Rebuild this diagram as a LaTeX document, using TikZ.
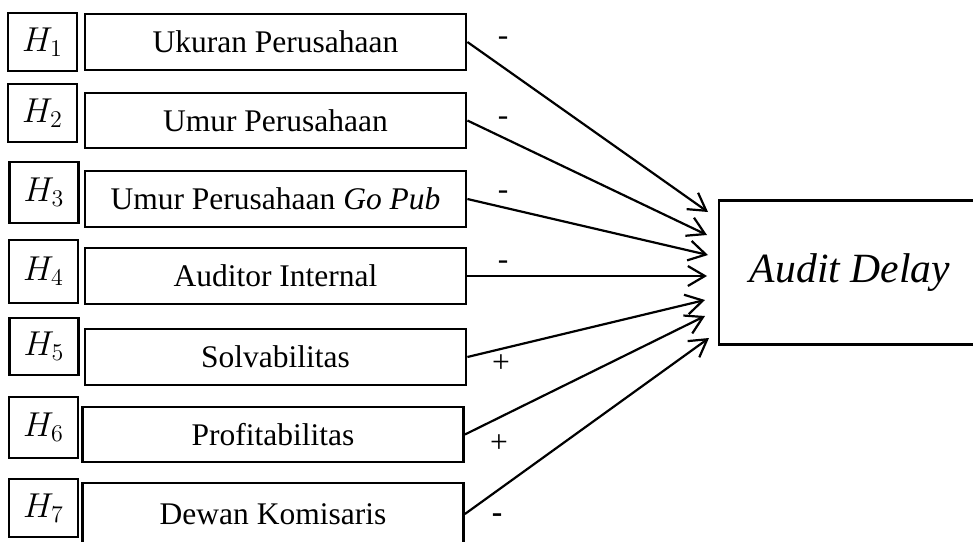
\documentclass[tikz,border=0pt]{standalone}
\usepackage{fontspec}
\setmainfont{Liberation Serif}
\usetikzlibrary{arrows.meta}
\begin{document}
\begin{tikzpicture}[x=0.5pt,y=-0.5pt,
  varbox/.style={draw, line width=1.4pt, minimum width=190.5pt, minimum height=28pt, inner sep=0pt,
    font=\fontsize{15.75}{18}\selectfont},
  hbox/.style={draw, line width=1.4pt, minimum width=34.5pt, minimum height=29pt, inner sep=0pt,
    font=\fontsize{17}{20}\selectfont},
  auditbox/.style={minimum width=160pt, minimum height=71.5pt, inner sep=0pt,
    font=\fontsize{20.8}{24}\selectfont\itshape},
  boxline/.style={line width=1.4pt},
  link/.style={line width=1.1pt, -{Straight Barb[length=8.5pt,width=10pt]}},
  sign/.style={font=\fontsize{15.75}{18}\selectfont, inner sep=0pt}]
\useasboundingbox (0,0) rectangle (973,541);
\clip (0,0) rectangle (973,541);
% hypothesis boxes
\node[hbox] (h1) at (42.5,42) {$H_1$};
\node[hbox] (h2) at (42.5,113) {$H_2$};
\node[hbox, minimum height=30.5pt] (h3) at (44,192.5) {$H_3$};
\node[hbox, minimum height=31.5pt] (h4) at (43.5,271.5) {$H_4$};
\node[hbox, minimum height=28.5pt] (h5) at (44,346.5) {$H_5$};
\node[hbox, minimum height=30.5pt] (h6) at (43.5,427.5) {$H_6$};
\node[hbox] (h7) at (43.5,508) {$H_7$};
% variable boxes
\node[varbox] (b1) at (275.5,42) {Ukuran Perusahaan};
\node[varbox, minimum height=27.5pt] (b2) at (275.5,120.5) {Umur Perusahaan};
\node[varbox] (b3) at (275.5,199) {Umur Perusahaan \textit{Go Pub}};
\node[varbox] (b4) at (275.5,276) {Auditor Internal};
\node[varbox] (b5) at (275.5,357) {Solvabilitas};
\node[varbox, minimum height=27.5pt] (b6) at (273,434.5) {Profitabilitas};
\node[varbox, minimum height=31pt] (b7) at (273,514) {Dewan Komisaris};
% dependent variable (its right side runs past the picture's edge)
\node[auditbox, anchor=west] (ad) at (719,272.5) {Audit Delay\hspace*{29.5pt}};
\draw[boxline] (ad.north east) -- (ad.north west) -- (ad.south west) -- (ad.south east);
% arrow targets
\coordinate (t1) at (708,212);
\coordinate (t2) at (707,235);
\coordinate (t3) at (708,255);
\coordinate (t4) at (707,276);
\coordinate (t5) at (705,300);
\coordinate (t6) at (705,316);
\coordinate (t7) at (709,338);
\draw[link] (b1.east) -- (t1);
\draw[link] (b2.east) -- (t2);
\draw[link] (b3.east) -- (t3);
\draw[link] (b4.east) -- (t4);
\draw[link] (b5.east) -- (t5);
\draw[link] (b6.east) -- (t6);
\draw[link] (b7.east) -- (t7);
% signs
\node[sign] (s1) at (503,41) {-};
\node[sign] (s2) at (503,121) {-};
\node[sign] (s3) at (503,195) {-};
\node[sign] (s4) at (503,265) {-};
\node[sign] (s5) at (501,364) {+};
\node[sign] (s6) at (499,444) {+};
\node[sign] (s7) at (497,518) {\textbf{-}};
\end{tikzpicture}
\end{document}
